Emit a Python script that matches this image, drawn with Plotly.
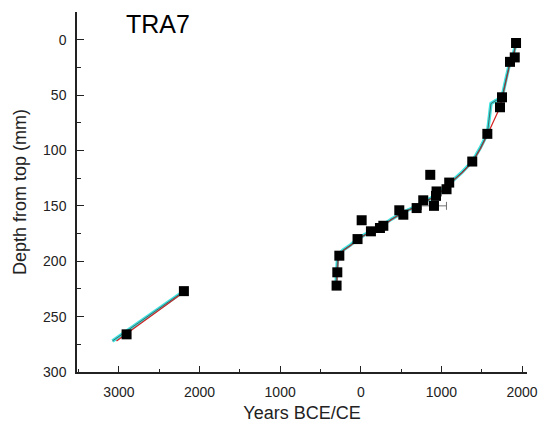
import plotly.graph_objects as go

# --- data (years: negative = BCE, positive = CE; depth in mm) ---
sample_age = [1926, 1910, 1851, 1752, 1727, 1570, 1383, 862, 1097, 1064, 940, 933, 775,
              908, 693, 478, 528, 11, 280, 238, 126, -40, -266, -291, -300, -2194, -2905]
sample_depth = [3, 16, 20, 52, 61, 85, 110, 122, 129, 135, 137, 141, 145,
                150, 152, 154, 158, 163, 168, 170, 173, 180, 195, 210, 222, 227, 266]
sample_err = [0, 0, 0, 0, 0, 0, 0, 0, 0, 0, 0, 0, 0,
              155, 0, 0, 0, 0, 0, 0, 0, 0, 0, 0, 0, 0, 0]

# age-depth model curves
cyan_age = [-3080, -2194, None, -310, -300, -290, -270, -220, -130, -40, 50, 130, 240, 380, 520,
            700, 860, 1000, 1120, 1250, 1383, 1480, 1570, 1603, 1615, 1665, 1752, 1800, 1851, 1890, 1926]
cyan_depth = [272, 227, None, 224, 210, 200, 194, 190, 185.5, 180, 176, 173, 169, 162, 156,
              150, 143.5, 136.5, 129, 120, 110, 98, 85, 60, 57.7, 55.4, 52, 36, 20, 14, 3]
red_age = [-3030, -2180, None, -300, -292, -282, -262, -212, -122, -32, 58, 138, 248, 388, 528,
           708, 868, 1008, 1128, 1258, 1390, 1488, 1576, 1727, 1756, 1805, 1855, 1895, 1928]
red_depth = [272, 227, None, 224, 210, 200, 194, 190, 185.5, 180, 176, 173, 169, 162, 156,
             150, 143.5, 136.5, 129, 120, 110, 98, 85, 61, 52, 36, 20, 14, 3]

x_tickvals = [-3000, -2000, -1000, 0, 1000, 2000]
x_ticktext = ["3000", "2000", "1000", "0", "1000", "2000"]
x_minorvals = [-3500, -2500, -1500, -500, 500, 1500]
y_tickvals = [0, 50, 100, 150, 200, 250, 300]
y_minorvals = [25, 75, 125, 175, 225, 275]

FONT = "Liberation Sans, Arial, sans-serif"

fig = go.Figure()
fig.add_trace(go.Scatter(x=cyan_age, y=cyan_depth, mode="lines",
                         line=dict(color="#3fe3e0", width=3.5), showlegend=False))
fig.add_trace(go.Scatter(x=red_age, y=red_depth, mode="lines",
                         line=dict(color="#d42020", width=1.2), showlegend=False))
fig.add_trace(go.Scatter(x=cyan_age, y=cyan_depth, mode="lines",
                         line=dict(color="#3d5c5c", width=0.9), showlegend=False))

err_idx = [i for i, e in enumerate(sample_err) if e > 0]
fig.add_trace(go.Scatter(x=[sample_age[i] for i in err_idx], y=[sample_depth[i] for i in err_idx],
                         mode="markers", marker=dict(size=1, color="rgba(0,0,0,0)"),
                         error_x=dict(type="data", array=[sample_err[i] for i in err_idx],
                                      color="#707070", thickness=1, width=4),
                         showlegend=False))
fig.add_trace(go.Scatter(x=sample_age, y=sample_depth, mode="markers",
                         marker=dict(symbol="square", size=10, color="black"),
                         showlegend=False))

fig.add_annotation(text="TRA7", xref="paper", yref="paper", x=0.105, y=1.0,
                   xanchor="left", yanchor="top", showarrow=False,
                   font=dict(family=FONT, size=25, color="black"), yshift=4)

axis_common = dict(showline=True, linecolor="#222", linewidth=1.5, showgrid=False,
                   zeroline=False, ticks="inside", tickcolor="#222", tickwidth=1.3,
                   tickfont=dict(family=FONT, size=14, color="#222"))

fig.update_layout(
    width=552, height=434,
    margin=dict(l=77, r=25, t=12, b=62),
    plot_bgcolor="white", paper_bgcolor="white",
    xaxis=dict(range=[-3520, 2062], tickmode="array", tickvals=x_tickvals, ticktext=x_ticktext,
               ticklen=6, ticklabelstandoff=6,
               minor=dict(tickmode="array", tickvals=x_minorvals, ticks="inside", ticklen=3,
                          tickcolor="#222", tickwidth=1.3, showgrid=False),
               title=dict(text="Years BCE/CE", font=dict(family=FONT, size=18, color="#222"),
                          standoff=8),
               **axis_common),
    yaxis=dict(range=[300, -25], tickmode="array", tickvals=y_tickvals,
               ticklen=7, ticklabelstandoff=6,
               minor=dict(tickmode="array", tickvals=y_minorvals, ticks="inside", ticklen=4,
                          tickcolor="#222", tickwidth=1.3, showgrid=False),
               title=dict(text="Depth from top (mm)", font=dict(family=FONT, size=18, color="#222"),
                          standoff=12),
               **axis_common),
)

fig.write_html("out.html")
